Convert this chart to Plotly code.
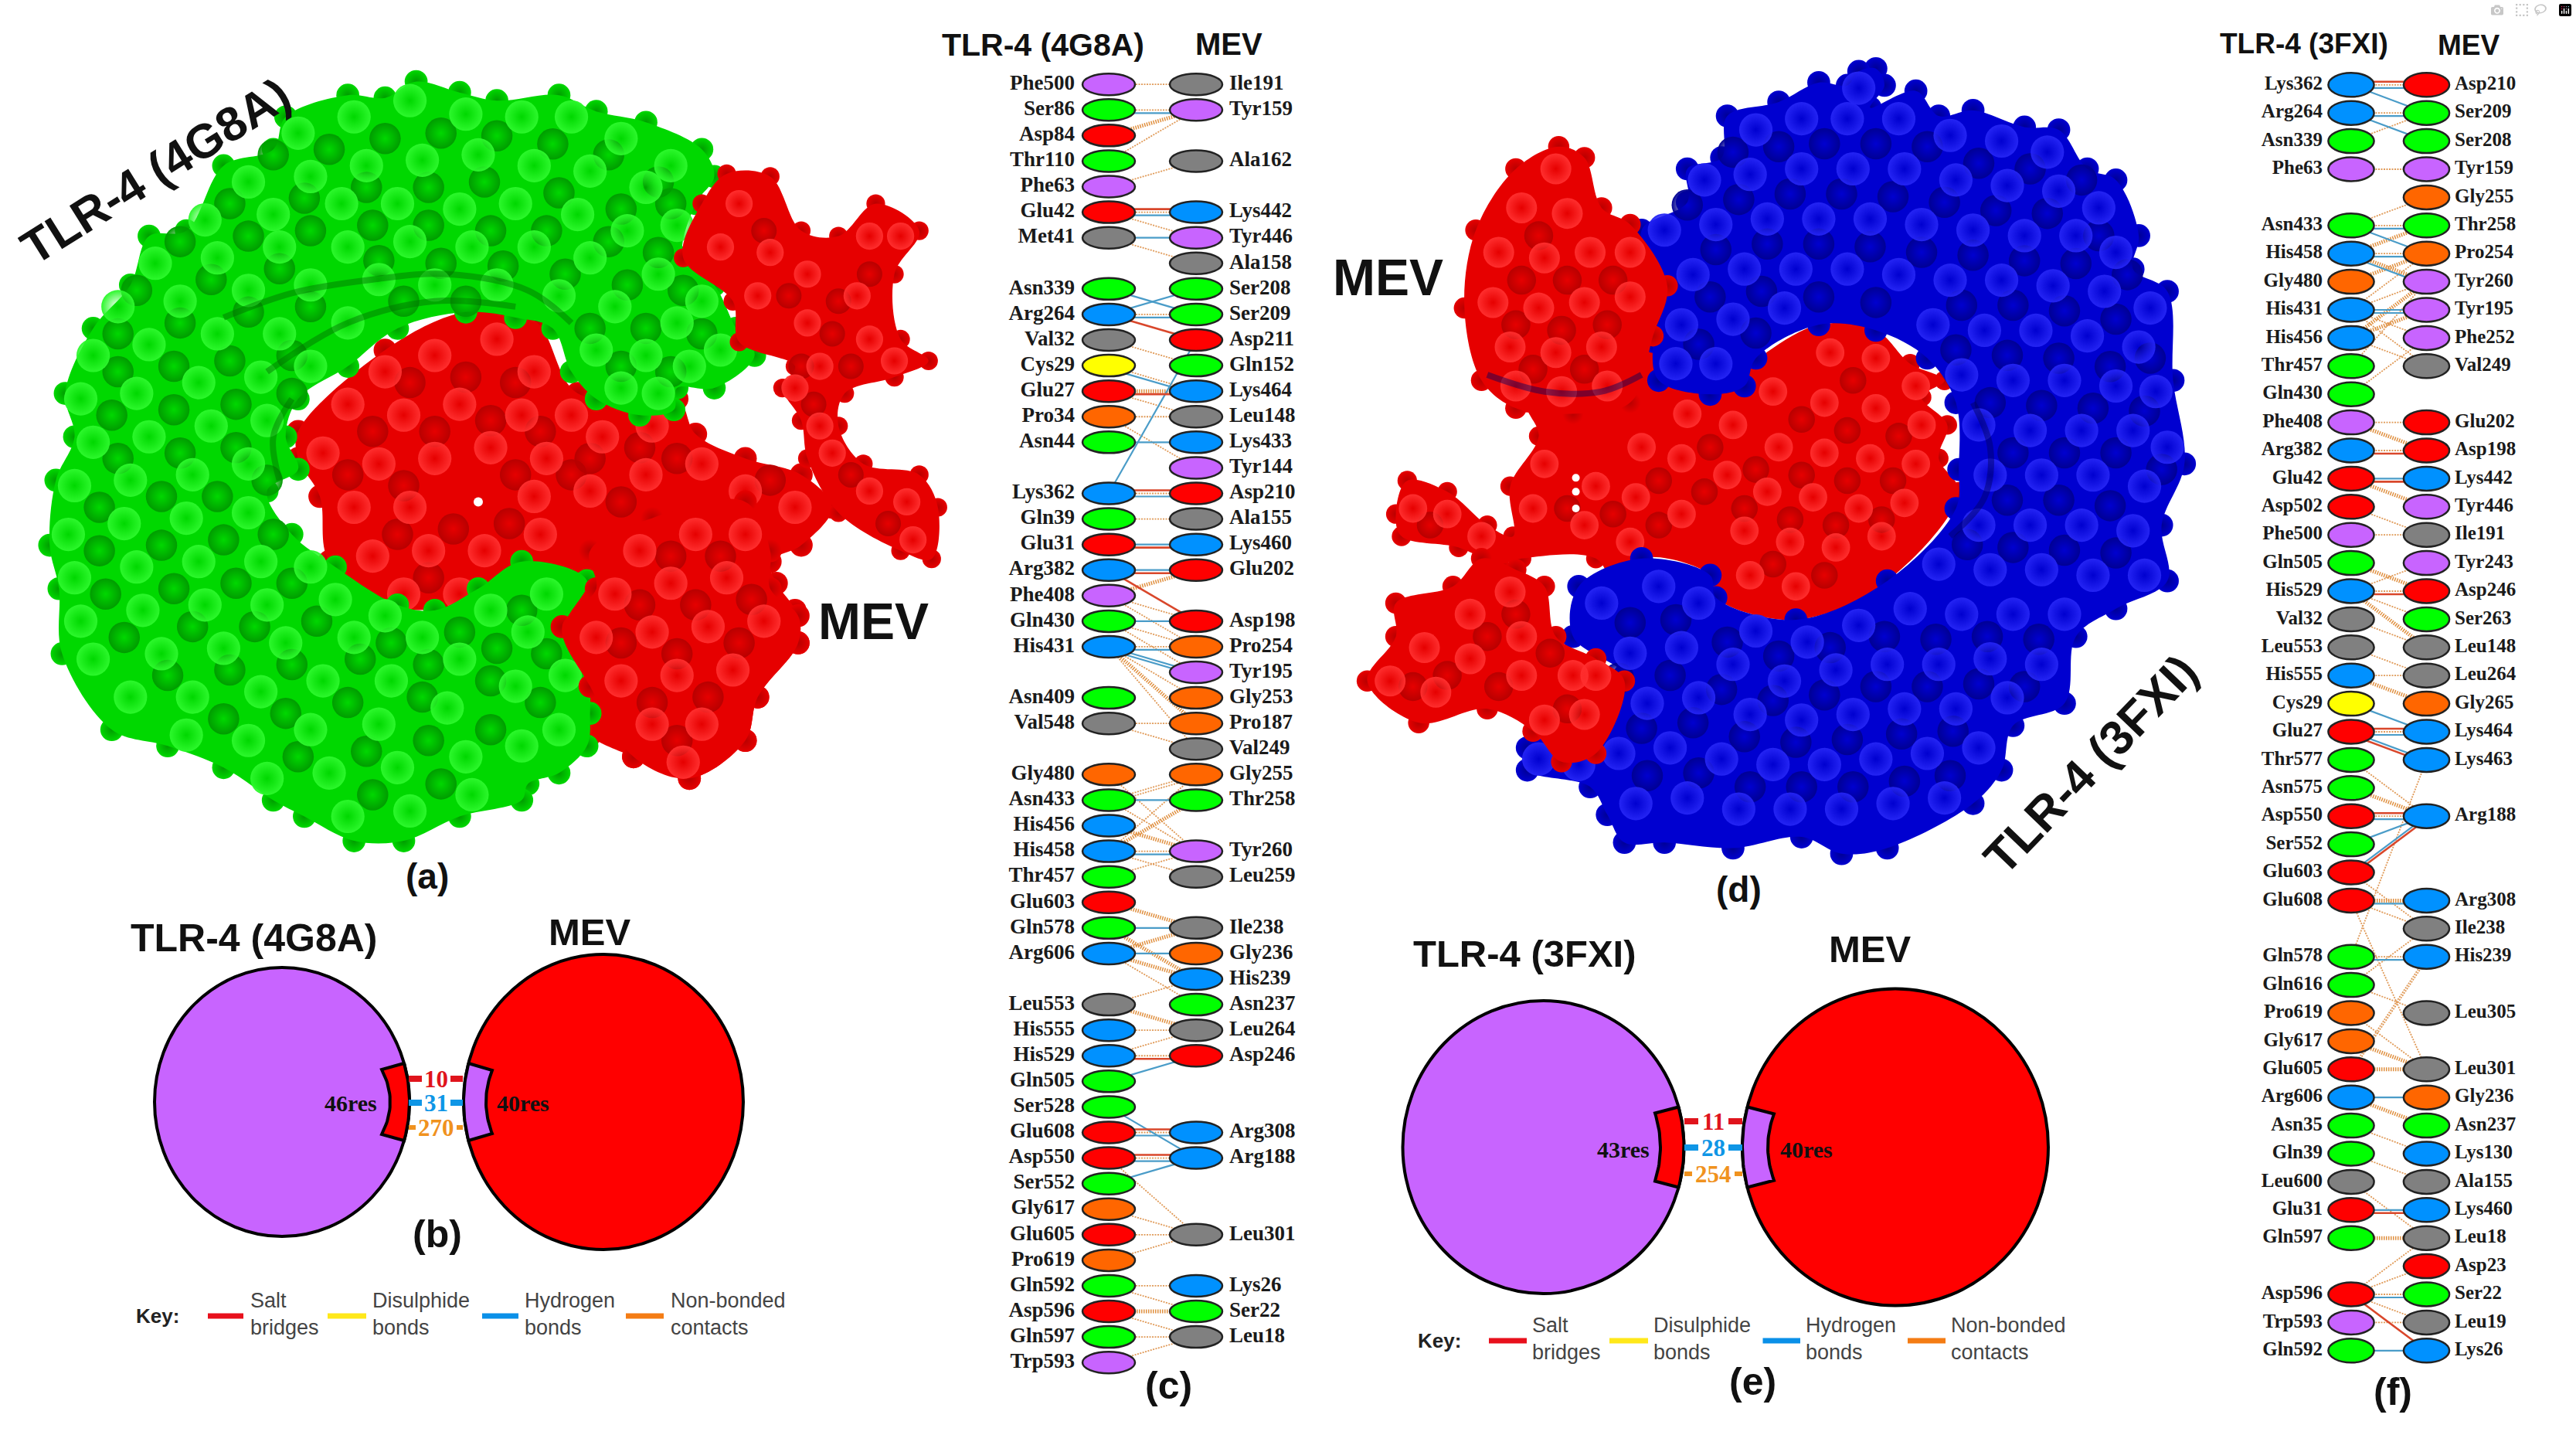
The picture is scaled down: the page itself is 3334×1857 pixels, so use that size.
import numpy as np
import plotly.graph_objects as go

W, H = 3334, 1857

# residue colours, by residue name
res_colors = {'His': '#0091ff', 'Lys': '#0091ff', 'Arg': '#0091ff',
              'Asp': '#ff0000', 'Glu': '#ff0000',
              'Ser': '#00ff00', 'Thr': '#00ff00', 'Asn': '#00ff00', 'Gln': '#00ff00',
              'Ala': '#808080', 'Val': '#808080', 'Leu': '#808080', 'Ile': '#808080', 'Met': '#808080',
              'Phe': '#c864ff', 'Tyr': '#c864ff', 'Trp': '#c864ff',
              'Pro': '#ff6600', 'Gly': '#ff6600', 'Cys': '#ffff00'}

# panel (c), TLR-4 (4G8A) / MEV rows
c_left = ['Phe500', 'Ser86', 'Asp84', 'Thr110', 'Phe63', 'Glu42', 'Met41', None, 'Asn339', 'Arg264',
          'Val32', 'Cys29', 'Glu27', 'Pro34', 'Asn44', None, 'Lys362', 'Gln39', 'Glu31', 'Arg382',
          'Phe408', 'Gln430', 'His431', None, 'Asn409', 'Val548', None, 'Gly480', 'Asn433', 'His456',
          'His458', 'Thr457', 'Glu603', 'Gln578', 'Arg606', None, 'Leu553', 'His555', 'His529', 'Gln505',
          'Ser528', 'Glu608', 'Asp550', 'Ser552', 'Gly617', 'Glu605', 'Pro619', 'Gln592', 'Asp596', 'Gln597',
          'Trp593']
c_right = ['Ile191', 'Tyr159', None, 'Ala162', None, 'Lys442', 'Tyr446', 'Ala158', 'Ser208', 'Ser209',
           'Asp211', 'Gln152', 'Lys464', 'Leu148', 'Lys433', 'Tyr144', 'Asp210', 'Ala155', 'Lys460', 'Glu202',
           None, 'Asp198', 'Pro254', 'Tyr195', 'Gly253', 'Pro187', 'Val249', 'Gly255', 'Thr258', None,
           'Tyr260', 'Leu259', None, 'Ile238', 'Gly236', 'His239', 'Asn237', 'Leu264', 'Asp246', None,
           None, 'Arg308', 'Arg188', None, None, 'Leu301', None, 'Lys26', 'Ser22', 'Leu18',
           None]
# (left row, right row, kind); nbx = a dense bundle of non-bonded contacts
c_links = [(0, 0, 'nb'), (1, 1, 'hb'), (1, 1, 'nb'), (2, 1, 'nbx'), (3, 1, 'nb'), (4, 3, 'nb'),
           (5, 5, 'sb'), (5, 5, 'hb'), (5, 5, 'nb'), (5, 6, 'nb'), (6, 6, 'hb'), (6, 7, 'nb'),
           (8, 9, 'hb'), (9, 8, 'hb'), (9, 9, 'hb'), (9, 9, 'nb'), (9, 10, 'sb'), (10, 11, 'nb'),
           (11, 12, 'nb'), (11, 12, 'hb'), (12, 12, 'sb'), (12, 12, 'nbx'), (12, 13, 'nb'), (13, 13, 'nb'),
           (13, 15, 'nb'), (14, 14, 'hb'), (16, 10, 'hb'), (16, 16, 'sb'), (16, 16, 'hb'), (16, 16, 'nb'),
           (17, 17, 'nb'), (18, 18, 'sb'), (18, 18, 'hb'), (19, 19, 'sb'), (19, 19, 'hb'), (20, 19, 'nbx'),
           (19, 21, 'sb'), (20, 21, 'nb'), (20, 22, 'nb'), (21, 21, 'hb'), (21, 22, 'nb'), (21, 23, 'nb'),
           (22, 22, 'hb'), (22, 22, 'nb'), (22, 23, 'hb'), (22, 23, 'hb'), (22, 24, 'nb'), (22, 25, 'nbx'),
           (22, 26, 'nb'), (25, 25, 'nb'), (25, 26, 'nb'), (28, 27, 'nb'), (28, 27, 'nb'), (28, 28, 'hb'),
           (27, 30, 'nb'), (28, 30, 'nb'), (30, 27, 'nb'), (30, 28, 'nbx'), (29, 30, 'nbx'), (30, 30, 'hb'),
           (30, 30, 'nb'), (30, 31, 'nb'), (31, 30, 'nb'), (32, 33, 'nbx'), (33, 33, 'hb'), (34, 33, 'nbx'),
           (33, 35, 'nbx'), (34, 34, 'hb'), (34, 35, 'nbx'), (34, 36, 'nb'), (36, 35, 'nb'), (36, 37, 'nbx'),
           (37, 37, 'nb'), (38, 37, 'nb'), (38, 38, 'sb'), (38, 38, 'nb'), (39, 38, 'hb'), (40, 42, 'hb'),
           (41, 41, 'sb'), (41, 41, 'hb'), (41, 41, 'nb'), (42, 42, 'sb'), (42, 42, 'nb'), (42, 42, 'hb'),
           (43, 42, 'hb'), (42, 45, 'nb'), (44, 45, 'nb'), (45, 45, 'nb'), (46, 45, 'nb'), (47, 47, 'nb'),
           (47, 48, 'nb'), (48, 48, 'nbx'), (48, 49, 'nb'), (49, 49, 'nb'), (50, 49, 'nb')]

# panel (f), TLR-4 (3FXI) / MEV rows
f_left = ['Lys362', 'Arg264', 'Asn339', 'Phe63', None, 'Asn433', 'His458', 'Gly480', 'His431', 'His456',
          'Thr457', 'Gln430', 'Phe408', 'Arg382', 'Glu42', 'Asp502', 'Phe500', 'Gln505', 'His529', 'Val32',
          'Leu553', 'His555', 'Cys29', 'Glu27', 'Thr577', 'Asn575', 'Asp550', 'Ser552', 'Glu603', 'Glu608',
          None, 'Gln578', 'Gln616', 'Pro619', 'Gly617', 'Glu605', 'Arg606', 'Asn35', 'Gln39', 'Leu600',
          'Glu31', 'Gln597', None, 'Asp596', 'Trp593', 'Gln592']
f_right = ['Asp210', 'Ser209', 'Ser208', 'Tyr159', 'Gly255', 'Thr258', 'Pro254', 'Tyr260', 'Tyr195', 'Phe252',
           'Val249', None, 'Glu202', 'Asp198', 'Lys442', 'Tyr446', 'Ile191', 'Tyr243', 'Asp246', 'Ser263',
           'Leu148', 'Leu264', 'Gly265', 'Lys464', 'Lys463', None, 'Arg188', None, None, 'Arg308',
           'Ile238', 'His239', None, 'Leu305', None, 'Leu301', 'Gly236', 'Asn237', 'Lys130', 'Ala155',
           'Lys460', 'Leu18', 'Asp23', 'Ser22', 'Leu19', 'Lys26']
f_links = [(0, 0, 'sb'), (0, 0, 'hb'), (0, 0, 'nb'), (0, 1, 'hb'), (1, 1, 'hb'), (1, 1, 'nb'), (1, 2, 'hb'),
           (2, 1, 'nb'), (3, 3, 'nb'), (5, 4, 'nb'), (5, 5, 'hb'), (5, 5, 'nb'), (5, 6, 'hb'), (6, 5, 'nbx'),
           (6, 6, 'hb'), (6, 6, 'nb'), (6, 7, 'nbx'), (6, 7, 'hb'), (7, 6, 'nbx'), (8, 6, 'nb'), (8, 7, 'nb'),
           (8, 8, 'hb'), (8, 8, 'hb'), (9, 7, 'nbx'), (9, 8, 'nbx'), (8, 9, 'nb'), (8, 10, 'nb'), (10, 7, 'nb'),
           (9, 10, 'nb'), (11, 9, 'nb'), (12, 12, 'nb'), (12, 13, 'nbx'), (13, 13, 'sb'), (13, 13, 'nb'),
           (14, 14, 'sb'), (14, 14, 'hb'), (14, 15, 'nbx'), (15, 16, 'nb'), (16, 16, 'nb'), (17, 18, 'nbx'),
           (18, 17, 'nb'), (18, 18, 'sb'), (18, 18, 'nb'), (18, 19, 'nb'), (18, 20, 'nbx'), (19, 20, 'nb'),
           (20, 21, 'nb'), (21, 21, 'nb'), (21, 22, 'nbx'), (22, 23, 'hb'), (23, 23, 'sb'), (23, 23, 'nb'),
           (23, 23, 'hb'), (23, 24, 'sb'), (23, 24, 'hb'), (24, 26, 'nb'), (25, 26, 'nbx'), (26, 26, 'hb'),
           (26, 26, 'sb'), (26, 26, 'nb'), (27, 26, 'hb'), (28, 26, 'sb'), (28, 26, 'hb'), (29, 29, 'hb'),
           (29, 29, 'nbx'), (28, 30, 'nb'), (29, 30, 'nb'), (31, 24, 'nb'), (31, 31, 'hb'), (31, 31, 'nb'),
           (32, 30, 'nb'), (35, 31, 'nb'), (35, 31, 'nb'), (32, 33, 'nb'), (29, 35, 'nb'), (33, 35, 'nb'),
           (34, 35, 'nbx'), (35, 35, 'nbx'), (36, 36, 'hb'), (36, 37, 'nbx'), (37, 38, 'nb'), (38, 39, 'nb'),
           (39, 41, 'nb'), (40, 40, 'sb'), (40, 40, 'hb'), (41, 41, 'nbx'), (43, 41, 'nb'), (43, 42, 'nb'),
           (43, 43, 'hb'), (43, 43, 'nb'), (43, 44, 'nb'), (43, 45, 'sb'), (44, 44, 'nb'), (45, 45, 'hb')]

# interface summaries, panels (b) and (e)
b_counts = [10, 31, 270]
e_counts = [11, 28, 254]
b_res = ['46res', '40res']
e_res = ['43res', '40res']
key_labels = ['Salt<br>bridges', 'Disulphide<br>bonds', 'Hydrogen<br>bonds', 'Non-bonded<br>contacts']
key_colors = ['#e8101c', '#ffe81a', '#0a90e8', '#f47c14']
count_colors = ['#e0141c', '#0f96e6', '#f0921e']

a_scale = (1.244, 1.425, 0, 60)
a_green_x = [670, 740, 800, 900, 960, 1040, 1130, 1150, 1120, 1100, 1150, 1185, 1215, 1150, 1090, 1085, 1030, 960, 920, 890, 830, 750, 640, 560, 480, 460, 480, 430, 470, 540, 640, 700, 770, 840, 945, 910, 945, 950, 945, 900, 850, 840, 740, 650, 570, 490, 440, 360, 270, 180, 100, 95, 80, 90, 120, 105, 150, 210, 240, 300, 360, 440, 460, 560, 620]
a_green_y = [65, 85, 100, 90, 120, 140, 190, 240, 290, 390, 440, 520, 570, 630, 630, 670, 680, 650, 600, 520, 500, 490, 520, 590, 650, 720, 780, 820, 900, 960, 1030, 1040, 1000, 950, 985, 1070, 1130, 1230, 1290, 1340, 1360, 1390, 1420, 1465, 1465, 1420, 1390, 1330, 1290, 1260, 1120, 1000, 920, 800, 720, 640, 520, 440, 350, 340, 220, 190, 130, 90, 95]
a_core_x = [480, 620, 750, 860, 930, 1090, 1120, 1200, 1290, 1340, 1290, 1240, 1250, 1280, 1285, 1220, 1200, 1110, 1020, 950, 930, 950, 905, 700, 640, 530, 515, 480]
a_core_y = [710, 560, 490, 505, 640, 650, 715, 760, 790, 850, 920, 950, 990, 1040, 1100, 1200, 1280, 1350, 1310, 1270, 1220, 1130, 1070, 1040, 1035, 950, 830, 760]
a_front_x = [950, 1050, 1200, 1240, 1240, 1285, 1285, 1220, 1200, 1110, 1020, 950, 905, 960]
a_front_y = [930, 870, 840, 930, 1000, 1050, 1100, 1200, 1280, 1350, 1310, 1180, 1070, 1000]
a_arm_x = [1170, 1240, 1290, 1350, 1410, 1480, 1440, 1450, 1495, 1440, 1360, 1350, 1390, 1480, 1510, 1500, 1450, 1350, 1300, 1290, 1260, 1280, 1190, 1180, 1100, 1130]
a_arm_y = [235, 240, 340, 350, 290, 340, 420, 540, 580, 610, 640, 700, 770, 790, 850, 945, 930, 860, 760, 690, 630, 590, 545, 470, 390, 290]
a_green_bx = [480, 570, 660, 750, 840, 920, 1000, 1080, 400, 500, 590, 680, 770, 860, 950, 1040, 330, 440, 550, 640, 740, 830, 930, 1010, 1090, 250, 350, 450, 560, 660, 760, 860, 950, 1060, 1130, 190, 290, 400, 500, 610, 700, 800, 900, 990, 1090, 1160, 150, 240, 350, 450, 560, 960, 1040, 1110, 130, 220, 320, 420, 500, 1000, 1060, 150, 240, 340, 430, 120, 210, 310, 400, 110, 200, 300, 400, 120, 220, 320, 420, 500, 130, 230, 330, 430, 540, 620, 150, 260, 360, 460, 570, 680, 790, 880, 210, 310, 420, 520, 630, 740, 850, 910, 300, 400, 500, 610, 720, 830, 900, 430, 530, 640, 750, 840, 560, 660, 760]
a_green_by = [160, 130, 100, 125, 130, 130, 170, 220, 250, 240, 220, 210, 200, 220, 230, 260, 320, 310, 290, 290, 300, 290, 310, 340, 330, 400, 390, 370, 370, 360, 370, 370, 390, 420, 470, 480, 470, 450, 440, 430, 440, 440, 460, 480, 510, 560, 570, 550, 530, 530, 510, 560, 570, 590, 650, 640, 620, 610, 590, 630, 640, 730, 720, 700, 690, 810, 800, 790, 770, 900, 880, 870, 860, 980, 960, 950, 950, 960, 1060, 1040, 1030, 1030, 1020, 1050, 1130, 1120, 1110, 1100, 1090, 1090, 1040, 1010, 1200, 1200, 1190, 1170, 1170, 1130, 1080, 1160, 1270, 1280, 1260, 1250, 1220, 1180, 1260, 1350, 1340, 1330, 1310, 1290, 1420, 1410, 1380]
a_green_px = [440, 530, 620, 710, 800, 890, 980, 1060, 370, 490, 590, 690, 780, 900, 1000, 1080, 290, 400, 500, 600, 690, 790, 880, 980, 1060, 220, 340, 450, 610, 710, 810, 910, 1010, 1100, 190, 290, 400, 500, 650, 750, 950, 1040, 1130, 190, 280, 370, 470, 1000, 1080, 180, 280, 380, 470, 190, 290, 380, 160, 260, 350, 430, 160, 260, 360, 440, 170, 280, 380, 470, 200, 310, 410, 510, 630, 740, 840, 270, 370, 470, 580, 690, 800, 880, 360, 460, 560, 680, 790, 870, 480, 590, 690, 790, 600, 710]
a_green_py = [200, 190, 170, 160, 165, 180, 200, 250, 290, 280, 260, 260, 250, 270, 300, 290, 360, 350, 340, 330, 330, 340, 340, 360, 380, 450, 430, 410, 395, 400, 405, 420, 440, 450, 530, 510, 490, 480, 470, 470, 520, 520, 530, 600, 590, 580, 570, 590, 600, 680, 670, 660, 640, 760, 750, 740, 850, 830, 830, 800, 930, 920, 910, 900, 1010, 1000, 990, 990, 1090, 1070, 1070, 1060, 1100, 1080, 1040, 1160, 1150, 1140, 1130, 1140, 1110, 1120, 1240, 1230, 1210, 1200, 1170, 1210, 1310, 1300, 1280, 1260, 1380, 1360]
a_core_bx = [620, 700, 800, 860, 560, 650, 740, 840, 920, 520, 610, 700, 790, 880, 970, 1050, 570, 660, 860, 950, 1040, 1130, 600, 690, 780, 870, 1200, 1280, 650, 740]
a_core_by = [600, 570, 540, 600, 660, 680, 660, 680, 680, 750, 770, 760, 740, 760, 720, 700, 850, 850, 830, 820, 790, 770, 940, 930, 930, 900, 820, 850, 1010, 1010]
a_core_px = [660, 750, 830, 600, 700, 790, 870, 950, 1030, 560, 650, 830, 920, 1000, 1090, 640, 730, 820, 1240, 690]
a_core_py = [620, 610, 620, 710, 710, 690, 710, 760, 740, 790, 810, 790, 790, 840, 760, 900, 890, 880, 800, 980]
a_front_bx = [1030, 1120, 1200, 990, 1080, 1170, 960, 1050, 1140, 1230, 1000, 1090, 1180, 1050, 1130, 1100]
a_front_by = [930, 900, 900, 1010, 990, 980, 1090, 1080, 1070, 1060, 1170, 1160, 1150, 1250, 1250, 1320]
a_front_px = [1080, 1160, 1030, 1120, 1210, 1000, 1090, 1190, 1050, 1140, 1090]
a_front_py = [940, 940, 1030, 1030, 1020, 1100, 1120, 1100, 1210, 1200, 1280]
a_arm_bx = [1190, 1160, 1240, 1220, 1300, 1300, 1400, 1450, 1380, 1400, 1440, 1320, 1280, 1320, 1340, 1400, 1460, 1470]
a_arm_by = [290, 370, 380, 460, 420, 510, 350, 350, 460, 540, 580, 590, 630, 700, 750, 820, 840, 910]
a_arm_px = [1230, 1270, 1350, 1340, 1400, 1290, 1370, 1310, 1370, 1430]
a_arm_py = [340, 460, 470, 530, 420, 590, 590, 660, 790, 880]
a_hole_x = [770]
a_hole_y = [840]
a_crease_x = [[360, 470, 600, 720, 850, 920], [430, 560, 700, 830], [470, 440, 450]]
a_crease_y = [[500, 455, 430, 420, 450, 510], [600, 510, 470, 480], [650, 720, 800]]

# surface outlines, bumps and pits, panel (d)
d_scale = (1.352, 1.388, 1740, 60)
d_blue_x = [930, 945, 920, 1000, 1040, 1100, 1190, 1250, 1300, 1350, 1390, 1380, 1440, 1450, 1470, 1430, 1440, 1350, 1280, 1260, 1170, 1150, 1100, 950, 870, 800, 680, 560, 490, 460, 430, 320, 320, 400, 470, 490, 400, 410, 520, 640, 650, 790, 950, 1070, 1075, 1070, 1020, 930, 830, 720, 700, 640, 550, 540, 560, 520, 600, 600, 660, 670, 760, 830, 880, 900]
d_blue_y = [40, 70, 110, 80, 125, 115, 145, 150, 220, 240, 340, 400, 440, 600, 750, 860, 960, 1010, 1060, 1180, 1220, 1300, 1360, 1440, 1450, 1420, 1440, 1430, 1430, 1380, 1330, 1300, 1260, 1220, 1180, 1130, 1060, 970, 920, 950, 990, 1030, 960, 830, 760, 640, 560, 510, 500, 560, 610, 625, 600, 530, 430, 330, 280, 220, 200, 125, 100, 65, 70, 45]
d_core_x = [540, 640, 710, 830, 930, 990, 1050, 1010, 1055, 1040, 1075, 950, 790, 650, 640, 520, 480, 440, 310, 270, 200, 100, 90, 110, 180, 250, 295, 290, 340, 320, 490]
d_core_y = [520, 625, 570, 500, 510, 570, 600, 630, 680, 740, 800, 960, 1030, 990, 950, 920, 980, 920, 920, 930, 900, 880, 840, 780, 800, 860, 880, 790, 700, 640, 620]
d_top_x = [375, 420, 450, 500, 565, 540, 500, 400, 300, 240, 210, 230, 300]
d_top_y = [180, 200, 290, 320, 430, 520, 640, 660, 650, 600, 470, 330, 220]
d_low_x = [240, 300, 350, 370, 440, 490, 440, 380, 330, 250, 130, 40, 90, 90, 190]
d_low_y = [920, 940, 970, 1060, 1100, 1140, 1270, 1285, 1230, 1190, 1215, 1140, 1060, 1000, 970]
d_blue_bx = [900, 720, 800, 880, 970, 1060, 1150, 1230, 630, 710, 800, 890, 980, 1070, 1160, 1250, 1320, 560, 650, 740, 830, 920, 1010, 1100, 1190, 1280, 1350, 610, 700, 790, 880, 970, 1060, 1150, 1240, 1330, 1410, 590, 680, 770, 1030, 1120, 1210, 1300, 1390, 580, 650, 1080, 1170, 1260, 1350, 1420, 1110, 1200, 1290, 1380, 1440, 1130, 1220, 1310, 1400, 1110, 1200, 1290, 1380, 1040, 1130, 1220, 1310, 1400, 450, 550, 620, 720, 810, 900, 990, 1080, 1170, 1260, 500, 590, 680, 770, 860, 950, 1040, 1130, 1220, 530, 620, 710, 800, 890, 980, 1070, 1160, 480, 570, 660, 750, 840, 930, 1020, 1110, 510, 600, 690, 780, 870, 960, 1050, 340, 410]
d_blue_by = [75, 150, 130, 130, 130, 160, 170, 190, 240, 230, 220, 220, 220, 240, 250, 260, 290, 330, 320, 310, 310, 310, 320, 330, 340, 340, 370, 410, 400, 400, 400, 410, 420, 420, 430, 440, 470, 500, 490, 470, 500, 510, 510, 520, 540, 570, 570, 590, 600, 600, 610, 620, 680, 690, 690, 690, 720, 770, 770, 770, 790, 860, 860, 860, 870, 930, 940, 940, 950, 950, 1000, 970, 1000, 1050, 1070, 1040, 1010, 1020, 1020, 1020, 1090, 1080, 1110, 1140, 1120, 1110, 1110, 1100, 1110, 1180, 1170, 1200, 1210, 1200, 1190, 1190, 1170, 1270, 1260, 1280, 1290, 1290, 1280, 1270, 1260, 1360, 1350, 1370, 1370, 1370, 1360, 1350, 1280, 1290]
d_blue_px = [680, 760, 840, 930, 1020, 1110, 1200, 1290, 600, 690, 780, 870, 960, 1050, 1140, 1230, 1320, 650, 740, 830, 920, 1010, 1100, 1190, 1280, 1370, 640, 730, 830, 930, 1080, 1170, 1260, 1350, 620, 720, 1070, 1160, 1250, 1340, 1410, 1130, 1220, 1310, 1400, 1170, 1260, 1350, 1430, 1160, 1250, 1340, 1090, 1170, 1260, 1350, 500, 580, 670, 760, 850, 945, 1035, 1125, 1215, 480, 570, 660, 750, 840, 930, 1020, 1110, 1190, 520, 610, 700, 790, 880, 975, 1065, 530, 620, 710, 800, 890, 980, 1060]
d_blue_py = [190, 180, 175, 175, 180, 210, 220, 240, 285, 275, 265, 265, 270, 280, 295, 300, 340, 365, 355, 355, 360, 370, 375, 385, 390, 410, 450, 440, 450, 460, 465, 465, 475, 490, 535, 515, 545, 555, 560, 575, 560, 640, 645, 650, 655, 730, 730, 730, 760, 815, 815, 825, 895, 900, 905, 910, 1035, 1030, 1070, 1095, 1080, 1060, 1065, 1060, 1065, 1135, 1130, 1155, 1175, 1165, 1150, 1150, 1145, 1150, 1225, 1215, 1240, 1250, 1245, 1235, 1230, 1310, 1305, 1330, 1330, 1330, 1320, 1310]
d_core_bx = [850, 930, 1000, 750, 840, 930, 1010, 600, 680, 760, 840, 920, 1000, 520, 590, 670, 740, 820, 900, 980, 350, 440, 510, 590, 700, 780, 860, 940, 330, 420, 500, 710, 790, 120, 180, 240]
d_core_by = [550, 560, 610, 620, 640, 650, 680, 660, 680, 720, 730, 740, 750, 720, 740, 770, 800, 810, 830, 820, 750, 790, 810, 840, 870, 890, 900, 880, 830, 860, 890, 950, 970, 830, 840, 880]
d_core_px = [890, 800, 880, 970, 640, 720, 800, 880, 960, 550, 630, 700, 780, 860, 940, 390, 470, 550, 750, 840, 150]
d_core_py = [600, 670, 690, 700, 720, 760, 770, 780, 780, 780, 800, 830, 850, 860, 850, 830, 840, 860, 930, 950, 860]
d_top_bx = [370, 310, 390, 270, 350, 430, 500, 260, 340, 420, 500, 290, 370, 450, 300, 380, 460]
d_top_by = [220, 290, 300, 370, 380, 370, 370, 460, 470, 460, 450, 540, 550, 540, 610, 620, 610]
d_top_px = [340, 310, 390, 470, 300, 380, 460, 330, 420]
d_top_py = [340, 420, 420, 420, 500, 510, 500, 580, 580]
d_low_bx = [290, 220, 310, 140, 220, 310, 400, 80, 160, 350, 420, 440]
d_low_by = [980, 1020, 1060, 1080, 1100, 1130, 1130, 1140, 1160, 1210, 1200, 1130]
d_low_px = [250, 180, 270, 360, 120, 300, 390]
d_low_py = [1060, 1130, 1150, 1090, 1150, 1020, 1190]
d_hole_x = [405, 405, 405]
d_hole_y = [775, 800, 830]
d_crease_x = [[250, 350, 450, 520], [1100, 1130, 1120, 1060]]
d_crease_y = [[590, 620, 620, 590], [640, 720, 810, 880]]

GREEN = dict(base='#00d800', lit='#2cf82c', glow='rgba(44,248,44,0)', dark='#009c00', fade='rgba(0,156,0,0)')
RED = dict(base='#e60000', lit='#ff2e2e', glow='rgba(255,46,46,0)', dark='#b80000', fade='rgba(184,0,0,0)')
BLUE = dict(base='#0000d0', lit='#2424f4', glow='rgba(36,36,244,0)', dark='#000094', fade='rgba(0,0,148,0)')

SERIF = 'Liberation Serif'
SANS = 'Liberation Sans'

fig = go.Figure()


def to_px(xs, ys, scale):
    # crop coordinates to page pixels
    sx, sy, ox, oy = scale
    return [x / sx + ox for x in xs], [y / sy + oy for y in ys]


def surface(xs, ys, bx, by, dx, dy, scale, col, size):
    px, py = to_px(xs, ys, scale)
    # lumps on the outline so the edge stays bumpy
    fig.add_trace(go.Scatter(x=px, y=py, mode='markers',
                             marker=dict(size=size * 0.55, color=col['base'], line=dict(width=0),
                                         gradient=dict(type='radial', color=col['dark']))))
    fig.add_trace(go.Scatter(x=px + px[:1], y=py + py[:1], mode='lines', fill='toself', fillcolor=col['base'],
                             line=dict(color=col['base'], width=0, shape='spline')))
    qx, qy = to_px(dx, dy, scale)
    fig.add_trace(go.Scatter(x=qx, y=qy, mode='markers',
                             marker=dict(size=size * 0.75, color=col['dark'], line=dict(width=0),
                                         gradient=dict(type='radial', color=col['fade']))))
    qx, qy = to_px(bx, by, scale)
    fig.add_trace(go.Scatter(x=qx, y=qy, mode='markers',
                             marker=dict(size=size * 0.8, color=col['lit'], line=dict(width=0),
                                         gradient=dict(type='radial', color=col['glow']))))


def creases(cx, cy, scale, color):
    for xs, ys in zip(cx, cy):
        px, py = to_px(xs, ys, scale)
        fig.add_trace(go.Scatter(x=px, y=py, mode='lines', opacity=0.45,
                                 line=dict(color=color, width=8, shape='spline')))


def holes(xs, ys, scale, size):
    px, py = to_px(xs, ys, scale)
    fig.add_trace(go.Scatter(x=px, y=py, mode='markers', marker=dict(size=size, color='white', line=dict(width=0))))


def label(x, y, text, size, family=SANS, bold=True, color='#111111', angle=0, anchor='center'):
    fig.add_annotation(x=x, y=y, text=text, showarrow=False, textangle=angle, xanchor=anchor, yanchor='middle',
                       font=dict(family=family, size=size, color=color, weight='bold' if bold else 'normal'))


def add_links(links, xl, xr, y0, step):
    style = {'nb': dict(color='#e09a58', width=1.8, dash='2px,1.5px'),
             'nbx': dict(color='#e09040', width=5, dash='1.5px,1.5px'),
             'hb': dict(color='#4a9cc8', width=2.2),
             'sb': dict(color='#d9472b', width=2.6)}
    seen = {}
    for kind in ['nb', 'nbx', 'hb', 'sb']:
        lx, ly = [], []
        for a, b, k in links:
            n = seen.get((a, b), 0)
            if k == kind:
                seen[(a, b)] = n + 1
                off = [0, 4, -4][n % 3]
                lx += [xl, xr, None]
                ly += [y0 + a * step + off, y0 + b * step + off, None]
        fig.add_trace(go.Scatter(x=lx, y=ly, mode='lines', line=style[kind]))


def add_rows(left, right, xl, xr, y0, step, rx, ry, tl, tr, size):
    for names, xc, tx, pos in [(left, xl, tl, 'middle left'), (right, xr, tr, 'middle right')]:
        rows = [i for i, n in enumerate(names) if n]
        for i in rows:
            y = y0 + i * step
            fig.add_shape(type='circle', x0=xc - rx, x1=xc + rx, y0=y - ry, y1=y + ry, layer='above',
                          fillcolor=res_colors[names[i][:3]], line=dict(color='#222222', width=2.5))
        fig.add_trace(go.Scatter(x=[tx] * len(rows), y=[y0 + i * step for i in rows], mode='text',
                                 text=[names[i] for i in rows], textposition=pos,
                                 textfont=dict(family=SERIF, size=size, color='#1a1a1a', weight='bold')))


def wedge(cx, cy, rx, ry, side, half_out, half_in, x_corner, x_mid, fill):
    t = np.linspace(-1, 1, 25)
    oy = cy + half_out * t
    ox = cx + side * rx * np.sqrt(1 - ((oy - cy) / ry) ** 2)
    iy = cy + half_in * t[::-1]
    ix = x_mid + (x_corner - x_mid) * t ** 2
    xs = list(ox) + list(ix) + [ox[0]]
    ys = list(oy) + list(iy) + [oy[0]]
    fig.add_trace(go.Scatter(x=xs, y=ys, mode='lines', fill='toself', fillcolor=fill,
                             line=dict(color='black', width=4)))


def interface(left, right, lw, rw, counts, res, num_x, num_ys, dash_l, dash_r, res_y, res_xl, res_xr):
    for (cx, cy, rx, ry), fill in [(left, '#c864ff'), (right, '#ff0000')]:
        fig.add_shape(type='circle', x0=cx - rx, x1=cx + rx, y0=cy - ry, y1=cy + ry, layer='below',
                      fillcolor=fill, line=dict(color='black', width=4))
    wedge(*left, 1, *lw, '#ff0000')
    wedge(*right, -1, *rw, '#c864ff')
    for i, (n, y, col) in enumerate(zip(counts, num_ys, count_colors)):
        w = 8 if i < 2 else 6
        cut = 0 if i < 2 else 8
        for x0, x1 in [(dash_l[0], dash_l[1] - cut), (dash_r[0] + cut, dash_r[1])]:
            fig.add_trace(go.Scatter(x=[x0, x1], y=[y, y], mode='lines', line=dict(color=col, width=w)))
        label(num_x, y, str(n), 31, family=SERIF, color=col)
    label(res_xl, res_y, res[0], 30, family=SERIF, anchor='right')
    label(res_xr, res_y, res[1], 30, family=SERIF, anchor='left')


def key(key_x, y, lines, text_xs):
    label(key_x, y, 'Key:', 26, anchor='left', color='#222222')
    for (x0, x1), col, tx, txt in zip(lines, key_colors, text_xs, key_labels):
        fig.add_trace(go.Scatter(x=[x0, x1], y=[y, y], mode='lines', line=dict(color=col, width=7)))
        fig.add_trace(go.Scatter(x=[tx], y=[y], mode='text', text=[txt], textposition='middle right',
                                 textfont=dict(family=SANS, size=27, color='#444444')))


# (a)
surface(a_core_x, a_core_y, a_core_bx, a_core_by, a_core_px, a_core_py, a_scale, RED, 54)
holes(a_hole_x, a_hole_y, a_scale, 12)
surface(a_green_x, a_green_y, a_green_bx, a_green_by, a_green_px, a_green_py, a_scale, GREEN, 54)
creases(a_crease_x, a_crease_y, a_scale, '#007000')
surface(a_front_x, a_front_y, a_front_bx, a_front_by, a_front_px, a_front_py, a_scale, RED, 54)
surface(a_arm_x, a_arm_y, a_arm_bx, a_arm_by, a_arm_px, a_arm_py, a_scale, RED, 44)
label(201, 221, 'TLR-4 (4G8A)', 62, angle=-32)
label(1130, 804, 'MEV', 66)
label(553, 1134, '(a)', 46)

# (d)
surface(d_core_x, d_core_y, d_core_bx, d_core_by, d_core_px, d_core_py, d_scale, RED, 46)
holes(d_hole_x, d_hole_y, d_scale, 10)
surface(d_blue_x, d_blue_y, d_blue_bx, d_blue_by, d_blue_px, d_blue_py, d_scale, BLUE, 54)
surface(d_top_x, d_top_y, d_top_bx, d_top_by, d_top_px, d_top_py, d_scale, RED, 50)
surface(d_low_x, d_low_y, d_low_bx, d_low_by, d_low_px, d_low_py, d_scale, RED, 50)
creases(d_crease_x, d_crease_y, d_scale, '#000060')
label(1796, 359, 'MEV', 66)
label(2705, 989, 'TLR-4 (3FXI)', 62, angle=-46)
label(2250, 1151, '(d)', 46)

# (c)
add_links(c_links, 1435, 1548, 109.2, 33.08)
add_rows(c_left, c_right, 1435, 1548, 109.2, 33.08, 34, 14, 1391, 1591, 27)
label(1350, 58, 'TLR-4 (4G8A)', 41)
label(1590, 57, 'MEV', 40)
label(1512, 1793, '(c)', 50)

# (f)
add_links(f_links, 3043, 3140.5, 109.8, 36.4)
add_rows(f_left, f_right, 3043, 3140.5, 109.8, 36.4, 29.6, 15.5, 3006, 3177, 25)
label(2982, 56, 'TLR-4 (3FXI)', 37)
label(3195, 58, 'MEV', 37)
label(3097, 1801, '(f)', 50)

# (b)
interface((365, 1426, 165, 174), (781, 1426, 181, 191), (50, 42, 494, 505), (50, 41, 637, 629),
          b_counts, b_res, 564.5, [1396, 1427, 1459], (529, 546), (583, 599), 1427, 490, 641)
label(328, 1214, 'TLR-4 (4G8A)', 50)
label(763, 1206, 'MEV', 49)
label(566, 1597, '(b)', 50)
key(174, 1703, [(269, 315), (424, 474), (624, 671), (810, 859)], [324, 482, 679, 868])

# (e)
interface((1997.5, 1484.5, 182, 189.5), (2453, 1484.5, 198, 205), (52, 44, 2142, 2149), (52, 43, 2296, 2288),
          e_counts, e_res, 2217, [1451, 1485, 1519], (2180, 2198), (2237, 2255), 1487, 2137, 2302)
label(1973, 1234, 'TLR-4 (3FXI)', 49)
label(2420, 1228, 'MEV', 49)
label(2268, 1788, '(e)', 50)
key(1833, 1735, [(1927, 1976), (2083, 2133), (2281.5, 2330), (2469, 2518)], [1983, 2140, 2337, 2525])

fig.update_layout(width=W, height=H, margin=dict(l=0, r=0, t=0, b=0), showlegend=False,
                  paper_bgcolor='white', plot_bgcolor='white',
                  xaxis=dict(range=[0, W], visible=False, fixedrange=True),
                  yaxis=dict(range=[H, 0], visible=False, fixedrange=True))

fig.write_html("out.html", post_script="document.body.style.margin='0';")
